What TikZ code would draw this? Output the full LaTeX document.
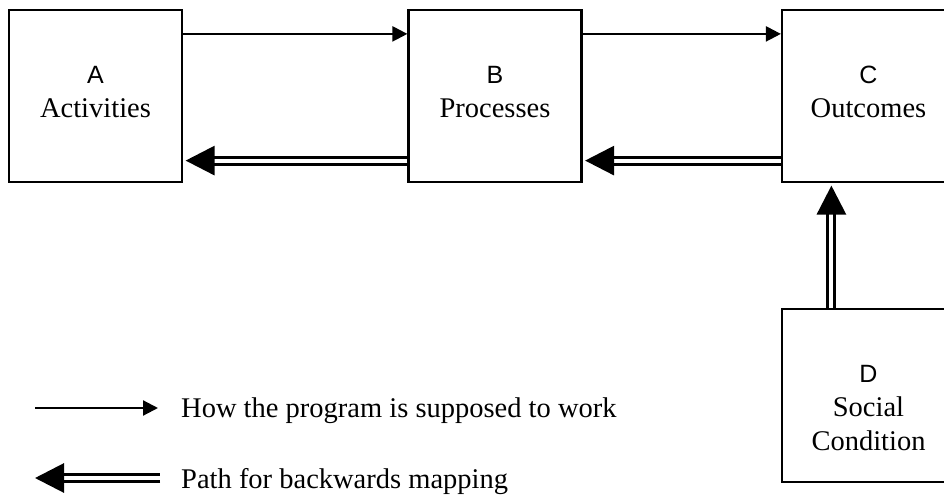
\documentclass[tikz,border=0pt]{standalone}
\usepackage{fontspec}
\setmainfont{Liberation Serif}
\setsansfont{Liberation Sans}
\usetikzlibrary{arrows.meta}

\tikzset{
  stage/.style={draw, rectangle, line width=2.2pt, minimum width=173pt,
    minimum height=172pt, inner sep=0pt, align=center,
    font=\fontsize{28.5}{34}\selectfont},
  flow/.style={line width=2.2pt, -{Triangle[length=15pt,width=15pt]}},
  back/.style={draw, line width=3pt, double=white, double distance=4pt,
    -{Triangle[length=29pt,width=29pt]}, shorten >=2.5pt},
  legendtext/.style={anchor=base west, inner sep=0pt,
    font=\fontsize{28.5}{34}\selectfont},
}
% sans-serif capital letter heading each box
\newcommand{\boxletter}[1]{{\sffamily\fontsize{25}{34}\selectfont #1}}

\begin{document}
\begin{tikzpicture}[x=1pt,y=-1pt]
\useasboundingbox (0,0) rectangle (944,497);
\clip (0,0) rectangle (944,497);

% the four stages
\node[stage] (A) at (95.5,96)  {\boxletter{A}\\Activities\rule[-8pt]{0pt}{0pt}};
\node[stage] (B) at (495,96)   {\boxletter{B}\\Processes\rule[-8pt]{0pt}{0pt}};
\node[stage] (C) at (868.5,96) {\boxletter{C}\\Outcomes\rule[-8pt]{0pt}{0pt}};
\node[stage, minimum height=173pt] (D) at (868.5,395.5)
  {\boxletter{D}\rule{0pt}{43pt}\\Social\\Condition};

% forward flow along the top
\draw[flow] ([yshift=-25pt]A.north east) -- ([yshift=-25pt]B.north west);
\draw[flow] ([yshift=-25pt]B.north east) -- ([yshift=-25pt]C.north west);

% backwards mapping paths
\draw[back] ([yshift=22.5pt]B.south west) -- ([yshift=22.5pt]A.south east);
\draw[back] ([yshift=22.5pt]C.south west) -- ([yshift=22.5pt]B.south east);
\draw[back] ([xshift=50.5pt]D.north west) -- ([xshift=50.5pt]C.south west);

% legend
\node[legendtext] (howtext) at (181,417) {How the program is supposed to work};
\node[legendtext] (pathtext) at (181,488) {Path for backwards mapping};
\coordinate (f0) at (35,408);
\coordinate (f1) at (158,408);
\draw[flow] (f0) -- (f1);
\coordinate (b0) at (160,478);
\coordinate (b1) at (35,478);
\draw[back, shorten >=0pt] (b0) -- (b1);
\end{tikzpicture}
\end{document}
